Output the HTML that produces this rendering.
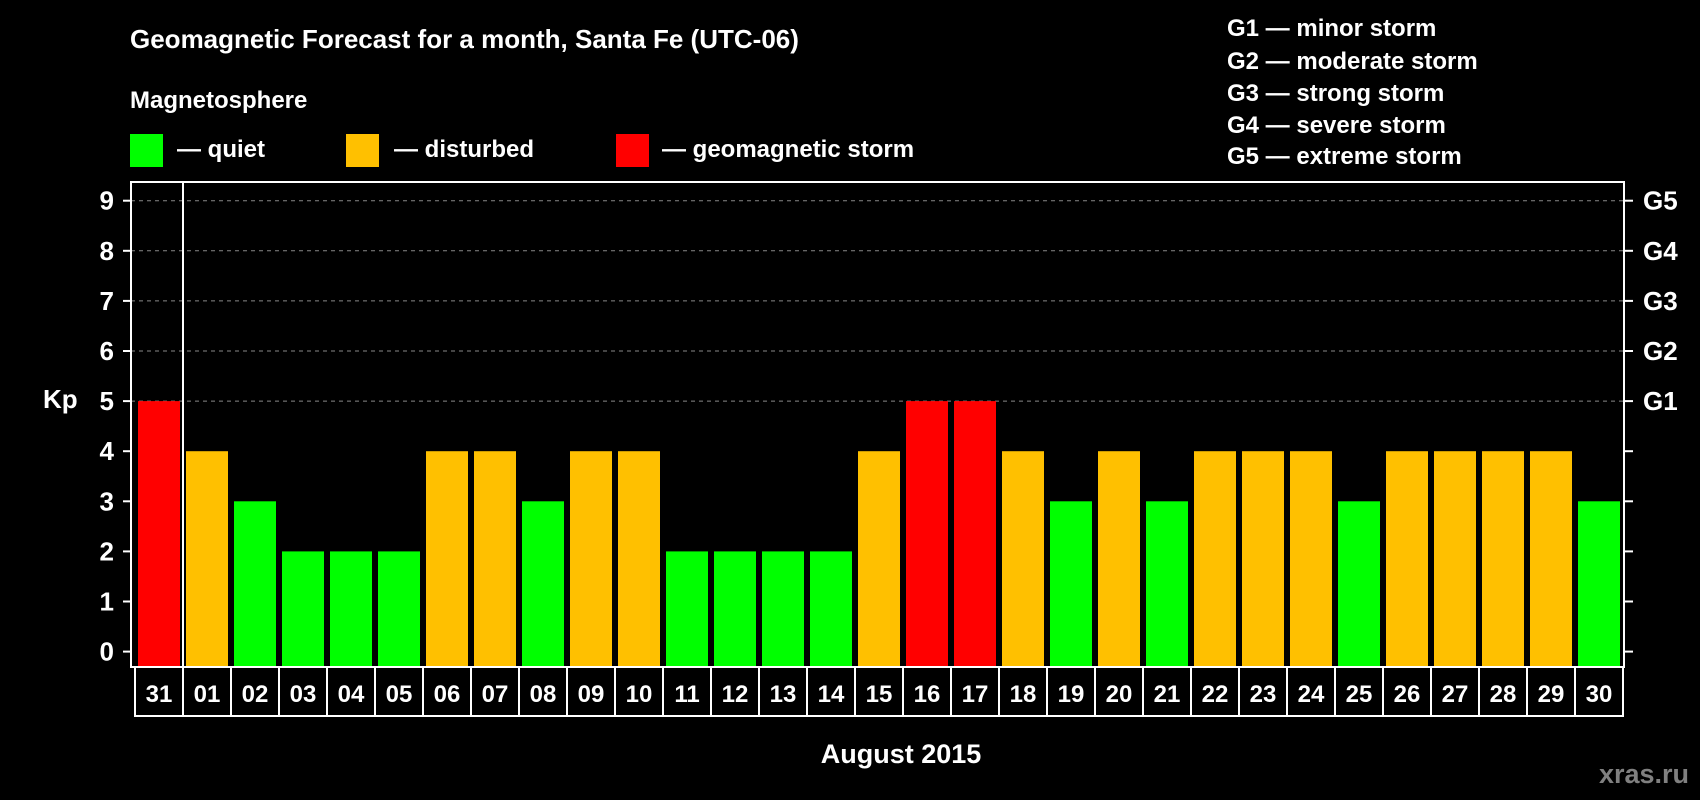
<!DOCTYPE html>
<html><head><meta charset="utf-8"><style>
html,body{margin:0;padding:0;background:#000;width:1700px;height:800px;overflow:hidden}
text{font-family:"Liberation Sans",Arial,sans-serif;font-weight:bold;fill:#fff}
</style></head><body>
<svg id="chart" width="1700" height="800" viewBox="0 0 1700 800">
<text x="130" y="48" font-size="26">Geomagnetic Forecast for a month, Santa Fe (UTC-06)</text>
<text x="130" y="108" font-size="24">Magnetosphere</text>
<g>
<rect x="130" y="134" width="33" height="33" fill="#00ff00"/>
<text x="177" y="157" font-size="24">— quiet</text>
<rect x="346" y="134" width="33" height="33" fill="#ffc000"/>
<text x="394" y="157" font-size="24">— disturbed</text>
<rect x="616" y="134" width="33" height="33" fill="#ff0000"/>
<text x="662" y="157" font-size="24">— geomagnetic storm</text>
</g>
<g font-size="24">
<text x="1227" y="36">G1 — minor storm</text>
<text x="1227" y="69">G2 — moderate storm</text>
<text x="1227" y="101">G3 — strong storm</text>
<text x="1227" y="133">G4 — severe storm</text>
<text x="1227" y="164">G5 — extreme storm</text>
</g>
<text x="43" y="408" font-size="26">Kp</text>
<text x="901" y="763" font-size="27" text-anchor="middle">August 2015</text>
<text x="1689" y="783" font-size="27" text-anchor="end" style="fill:#808080">xras.ru</text>
<g id="grid"></g><g id="bars"></g><g id="axes"></g>
</svg>
<script>
const days=["31","01","02","03","04","05","06","07","08","09","10","11","12","13","14","15","16","17","18","19","20","21","22","23","24","25","26","27","28","29","30"];
const kp=[5,4,3,2,2,2,4,4,3,4,4,2,2,2,2,4,5,5,4,3,4,3,4,4,4,3,4,4,4,4,3];
const yTicks=[0,1,2,3,4,5,6,7,8,9];
const gLabels=["G1","G2","G3","G4","G5"];
const gLevels=[5,6,7,8,9];
const NS="http://www.w3.org/2000/svg";
const L=131,R=1624,T=182,B=667,X0=135,SLOT=48;
const y=v=>651.6-v*50.1;
const xc=i=>X0+SLOT*i+24;
function mk(tag,attrs,parent){const e=document.createElementNS(NS,tag);for(const k in attrs)e.setAttribute(k,attrs[k]);parent.appendChild(e);return e;}
const grid=document.getElementById('grid'),bars=document.getElementById('bars'),axes=document.getElementById('axes');
gLevels.forEach((g,i)=>{
 const ln=mk('line',{x1:L,x2:R,y1:y(g),y2:y(g),stroke:'#888','stroke-dasharray':'4,4','stroke-width':1},grid);
 
 
 const t=mk('text',{x:1643,y:y(g)+9,'font-size':26},axes);
 t.textContent=gLabels[i];
 
 
});
kp.forEach((v,i)=>{
 const c=v>=5?'#ff0000':(v>=4?'#ffc000':'#00ff00');
 const r=mk('rect',{x:xc(i)-21,y:y(v),width:42,height:B-y(v),fill:c},bars);
 
 
 const b=mk('rect',{x:X0+SLOT*i,y:B,width:SLOT,height:49,fill:'none',stroke:'#fff','stroke-width':2},axes);
 
 
 const t=mk('text',{x:xc(i),y:B+35,'font-size':24,'text-anchor':'middle'},axes);
 t.textContent=days[i];
 
 
});
const frame=mk('rect',{x:L,y:T,width:R-L,height:B-T,fill:'none',stroke:'#fff','stroke-width':2},axes);


const sep=mk('line',{x1:183,x2:183,y1:T,y2:B,stroke:'#fff','stroke-width':2},axes);


yTicks.forEach(v=>{
 const a=mk('line',{x1:123,x2:L,y1:y(v),y2:y(v),stroke:'#fff','stroke-width':2},axes);
 
 
 const b=mk('line',{x1:R,x2:1633,y1:y(v),y2:y(v),stroke:'#fff','stroke-width':2},axes);
 
 
 const t=mk('text',{x:114,y:y(v)+9,'font-size':26,'text-anchor':'end'},axes);
 t.textContent=v;
 
 
});
</script>
</body></html>
